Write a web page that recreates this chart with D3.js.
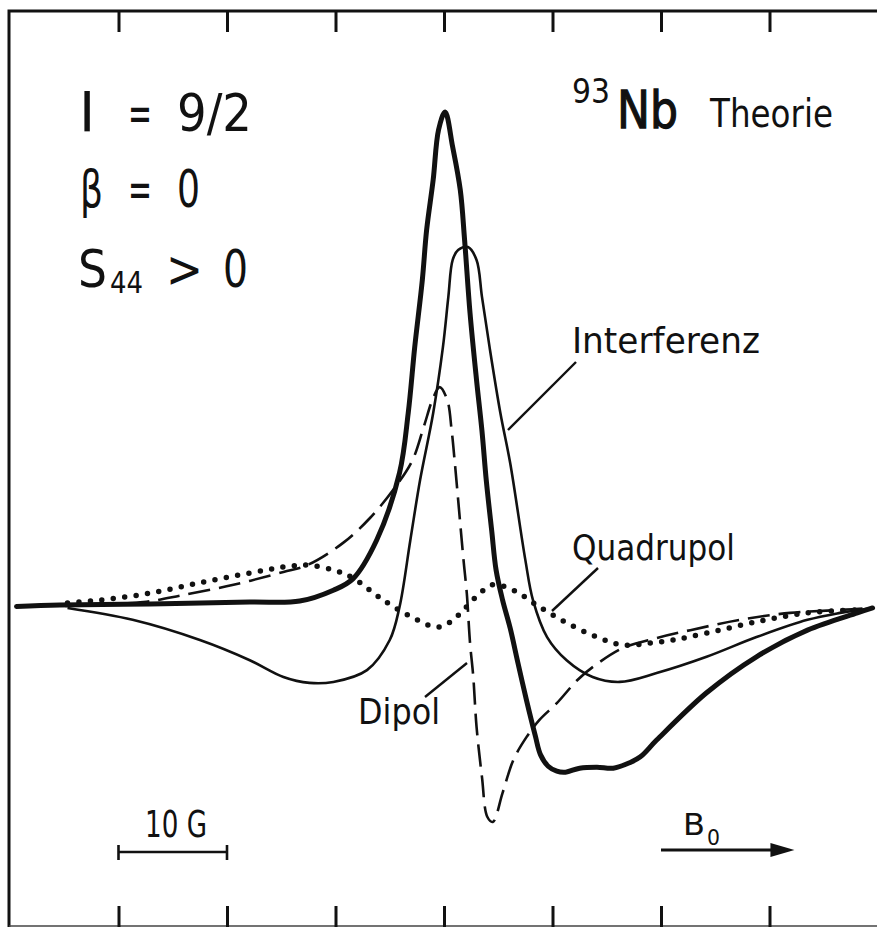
<!DOCTYPE html>
<html>
<head>
<meta charset="utf-8">
<script src="https://cdn.jsdelivr.net/npm/d3@7"></script>
<style>
  html, body { margin: 0; padding: 0; background: #fff; }
  svg { display: block; }
  text { font-family: "DejaVu Sans", sans-serif; fill: #111; }
</style>
</head>
<body>
<svg id="chart" width="877" height="927"></svg>
<script>
// Field offset in gauss (relative to the line centre) and signal in arbitrary units.
const gesamtX = [-39.4, -35.4, -27.1, -17.9, -13.3, -10.2, -8.4, -6.2, -4.1, -3.3, -2.7, -2.0, -1.6, -1.0, -0.5, 0.1, 0.8, 1.5, 1.9, 2.4, 3.0, 3.5, 3.9, 4.4, 4.8, 5.4, 6.1, 6.8, 7.6, 8.4, 8.9, 9.6, 10.4, 11.2, 12.5, 14.1, 15.6, 17.1, 18.1, 19.6, 24.2, 28.8, 33.5, 38.1, 39.5];
const gesamtY = [-0.1, 0.2, 0.4, 0.8, 1.0, 3.2, 5.5, 13.4, 27.0, 39.1, 52.5, 66.1, 76.3, 86.4, 96.6, 100.2, 93.1, 84.4, 74.2, 59.4, 45.8, 35.5, 25.4, 15.2, 7.3, 1.2, -4.5, -11.4, -19.1, -26.2, -30.2, -32.5, -33.5, -33.7, -32.9, -32.7, -32.9, -31.8, -30.6, -27.2, -17.6, -10.3, -4.9, -1.4, -0.4];

const interfX = [-34.7, -28.7, -22.5, -17.9, -14.8, -12.4, -10.2, -7.1, -5.0, -4.1, -3.1, -2.2, -1.0, -0.1, 0.4, 0.8, 1.3, 2.2, 3.0, 3.5, 4.2, 5.2, 6.1, 7.5, 8.2, 9.5, 11.3, 13.7, 16.2, 19.6, 24.2, 28.8, 33.5, 36.5, 39.5];
const interfY = [-0.4, -2.8, -6.9, -11.0, -14.4, -15.6, -15.4, -13.0, -6.9, -0.2, 13.4, 25.6, 39.1, 52.5, 62.7, 70.2, 72.2, 72.8, 70.2, 62.7, 52.5, 39.1, 29.0, 9.3, 1.2, -6.3, -11.0, -14.4, -15.4, -13.6, -10.3, -6.3, -2.8, -1.4, -0.4];

const dipolX = [-34.9, -27.7, -24.1, -19.4, -14.8, -12.6, -9.3, -6.8, -4.5, -2.9, -1.9, -1.0, -0.4, 0.3, 0.7, 1.0, 1.8, 2.1, 2.4, 2.7, 3.0, 3.5, 4.0, 4.5, 5.4, 6.4, 7.6, 8.8, 10.4, 12.3, 13.7, 16.5, 19.6, 22.7, 27.3, 31.9, 36.5, 39.5];
const dipolY = [0.0, 0.8, 2.2, 4.3, 6.9, 8.3, 12.8, 17.9, 24.1, 29.6, 36.1, 42.2, 44.4, 41.8, 35.7, 29.0, 9.3, 2.6, -7.5, -14.4, -24.5, -34.7, -42.8, -43.8, -37.9, -31.2, -26.6, -23.1, -19.7, -15.0, -12.4, -8.5, -6.5, -4.9, -2.8, -1.4, -0.8, -0.4];

const quadX = [-34.7, -31.7, -27.1, -22.5, -17.9, -14.8, -12.6, -10.2, -8.4, -5.6, -2.5, -0.6, 0.6, 1.8, 3.3, 4.5, 6.4, 8.8, 11.3, 14.1, 16.5, 19.0, 21.1, 24.2, 28.8, 33.5, 38.1];
const quadY = [0.6, 1.2, 2.6, 4.7, 6.7, 7.9, 8.3, 7.3, 5.7, 1.2, -2.8, -4.3, -3.2, -0.8, 2.6, 4.3, 3.2, -0.2, -3.4, -6.3, -7.9, -7.5, -6.9, -5.5, -3.2, -1.4, -0.8];

const tickValues = [-30, -20, -10, 0, 10, 20, 30];
const scaleBarGauss = [-30, -20];
const fieldArrowGauss = [20, 32.3];

const svg = d3.select("#chart");
const x = d3.scaleLinear().domain([-40, 40]).range([10, 878]);
const y = d3.scaleLinear().domain([0, 100]).range([606, 113]);

const frameTop = 11, frameBottom = 925, frameLeft = 9;

// Frame: top and left edges, thin bottom edge (right side runs off the sheet)
svg.append("path")
  .attr("d", `M877,${frameTop} H${frameLeft} V927`)
  .attr("fill", "none").attr("stroke", "#111").attr("stroke-width", 3);
svg.append("line")
  .attr("x1", frameLeft).attr("x2", 877).attr("y1", 926).attr("y2", 926)
  .attr("stroke", "#444").attr("stroke-width", 1.5);

// Inward ticks every 10 G along top and bottom
const topAxis = d3.axisBottom(x).tickValues(tickValues).tickSize(21).tickFormat("");
const botAxis = d3.axisTop(x).tickValues(tickValues).tickSize(21).tickFormat("");
[[topAxis, frameTop], [botAxis, frameBottom + 2]].forEach(([ax, ty]) => {
  const g = svg.append("g").attr("transform", `translate(0,${ty})`).call(ax);
  g.select(".domain").remove();
  g.selectAll(".tick line").attr("stroke", "#111").attr("stroke-width", 3);
});

function curve(xs, ys, style) {
  const line = d3.line()
    .x(d => x(d[0])).y(d => y(d[1]))
    .curve(d3.curveCatmullRom.alpha(0.5));
  const p = svg.append("path")
    .datum(xs.map((v, i) => [v, ys[i]]))
    .attr("d", line)
    .attr("fill", "none")
    .attr("stroke", "#111")
    .attr("stroke-linejoin", "round");
  Object.entries(style).forEach(([k, v]) => p.attr(k, v));
}

curve(interfX, interfY, { "stroke-width": 2.6 });
curve(dipolX, dipolY, { "stroke-width": 2.6, "stroke-dasharray": "22 9" });
curve(quadX, quadY, { "stroke-width": 5.5, "stroke-dasharray": "0 11.5", "stroke-linecap": "round" });
curve(gesamtX, gesamtY, { "stroke-width": 5, "stroke-linecap": "round" });

// Leader lines from labels to curves
const leaders = [
  [[576, 362], [508, 430]],
  [[598, 568], [552, 611]],
  [[425, 697], [467, 663]]
];
leaders.forEach(seg => {
  svg.append("line")
    .attr("x1", seg[0][0]).attr("y1", seg[0][1])
    .attr("x2", seg[1][0]).attr("y2", seg[1][1])
    .attr("stroke", "#111").attr("stroke-width", 2.4);
});

function label(txt, px, py, size, len, extra) {
  const t = svg.append("text")
    .attr("x", px).attr("y", py)
    .attr("font-size", size)
    .text(txt);
  if (len) t.attr("textLength", len).attr("lengthAdjust", "spacingAndGlyphs");
  if (extra) Object.entries(extra).forEach(([k, v]) => t.attr(k, v));
  return t;
}

// Parameter block
label("I", 79, 131, 55, null, { "font-family": "Liberation Serif" });
label("=", 128, 131, 52, 24);
label("9/2", 177, 131, 52, 75);
label("β", 80, 207, 52, 23);
label("=", 128, 207, 52, 24);
label("0", 177, 207, 52, 23);
label("S", 78, 287, 52, 29);
label("44", 110, 293, 30, 33);
label(">", 166, 287, 52, 37);
label("0", 223, 287, 52, 25);

// Title
label("93", 572, 103, 33, 38);
label("Nb", 617, 128, 52, 61, { "stroke": "#111", "stroke-width": 1.3 });
label("Theorie", 710, 127, 39, 123);

// Curve names
label("Interferenz", 572, 353, 35, 188);
label("Quadrupol", 572, 560, 35, 163);
label("Dipol", 358, 724, 35, 82);

// 10 G scale bar
label("10 G", 145, 837, 38, 62);
const sb = scaleBarGauss.map(x);
svg.append("line").attr("x1", sb[0]).attr("x2", sb[1]).attr("y1", 852).attr("y2", 852)
  .attr("stroke", "#111").attr("stroke-width", 2.6);
sb.forEach(px => svg.append("line").attr("x1", px).attr("x2", px).attr("y1", 845).attr("y2", 860)
  .attr("stroke", "#111").attr("stroke-width", 2.6));

// Field direction arrow
label("B", 683, 835, 30, 22);
label("0", 707, 845, 22, 13);
const fa = fieldArrowGauss.map(x);
svg.append("line").attr("x1", fa[0]).attr("x2", fa[1] - 20).attr("y1", 850).attr("y2", 850)
  .attr("stroke", "#111").attr("stroke-width", 3);
svg.append("path")
  .attr("d", `M${fa[1] - 24},843 L${fa[1]},850 L${fa[1] - 24},857 Z`)
  .attr("fill", "#111");
</script>
</body>
</html>
